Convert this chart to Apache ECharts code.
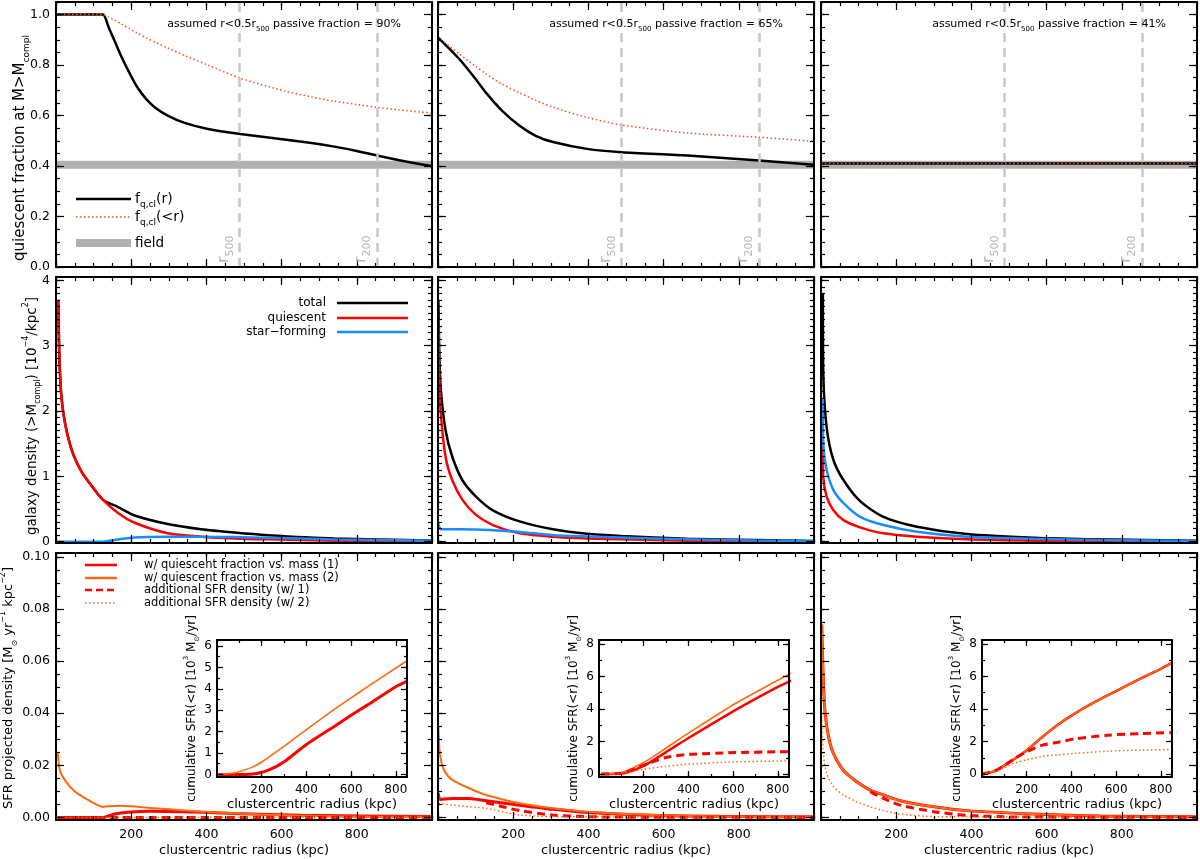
<!DOCTYPE html>
<html>
<head>
<meta charset="utf-8">
<title>Quiescent fraction, galaxy density and SFR profiles</title>
<script src="https://cdn.jsdelivr.net/npm/echarts@6/dist/echarts.min.js"></script>
<style>
  html, body { margin: 0; padding: 0; background: #fff; }
  #chart { width: 1200px; height: 859px; }
</style>
</head>
<body>
<div id="chart"></div>
<script>
/* -------------------------------------------------------------------------- */
/*                     Values (r in kpc)                  */
/* -------------------------------------------------------------------------- */

// top row: quiescent fraction
const fracR1 = [0, 110, 125, 140, 156, 175, 195, 215, 240, 265, 297, 342, 404, 490, 607, 680, 740, 800, 853, 910, 970, 1000];
const fracLocal1 = [1.0, 1.0, 1.0, 0.95, 0.895, 0.83, 0.77, 0.715, 0.665, 0.63, 0.60, 0.571, 0.547, 0.527, 0.505, 0.491, 0.477, 0.46, 0.442, 0.424, 0.407, 0.40];
const fracCumul1 = [1.0, 1.0, 1.0, 0.99, 0.978, 0.962, 0.945, 0.928, 0.908, 0.89, 0.868, 0.838, 0.80, 0.748, 0.698, 0.674, 0.657, 0.644, 0.633, 0.623, 0.614, 0.61];
const fracR2 = [0, 56, 100, 128, 170, 217, 260, 306, 396, 487, 664, 854, 1000];
const fracLocal2 = [0.91, 0.825, 0.745, 0.69, 0.62, 0.56, 0.52, 0.495, 0.468, 0.455, 0.442, 0.422, 0.405];
const fracCumul2 = [0.91, 0.845, 0.795, 0.765, 0.725, 0.69, 0.66, 0.633, 0.593, 0.563, 0.531, 0.514, 0.498];
const fracR3 = [0, 1000];
const fracLocal3 = [0.41, 0.41];
const fracCumul3 = [0.41, 0.41];
const fieldR = [0, 1000];
const fieldFrac = [0.405, 0.405];
const r500 = 488;
const r200 = 854;
const passiveFractions = ['90%', '65%', '41%'];

// middle row: galaxy density [1e-4 / kpc^2]
const densR1 = [6, 8, 10, 14, 20, 30, 45, 67, 94, 125, 165, 209, 297, 386, 474, 563, 740, 1000];
const densTot1 = [3.7, 3.05, 2.65, 2.25, 1.95, 1.65, 1.35, 1.08, 0.86, 0.64, 0.53, 0.40, 0.27, 0.19, 0.14, 0.10, 0.05, 0.02];
const densQ1 = [3.7, 3.05, 2.65, 2.25, 1.95, 1.65, 1.35, 1.08, 0.86, 0.64, 0.44, 0.29, 0.13, 0.077, 0.05, 0.036, 0.015, 0.01];
const densSF1 = [0, 0, 0, 0, 0, 0, 0, 0, 0, 0, 0.035, 0.066, 0.077, 0.077, 0.07, 0.06, 0.035, 0.015];
const densR2 = [1, 3, 7, 20, 38, 65, 101, 146, 217, 306, 396, 487, 664, 844, 1000];
const densTot2 = [3.7, 3.0, 2.37, 1.71, 1.30, 0.94, 0.69, 0.48, 0.31, 0.19, 0.12, 0.087, 0.046, 0.025, 0.01];
const densQ2 = [3.39, 2.6, 2.0, 1.3, 0.94, 0.64, 0.41, 0.255, 0.128, 0.077, 0.05, 0.036, 0.015, 0.008, 0.003];
const densSF2 = [0.28, 0.23, 0.19, 0.19, 0.19, 0.19, 0.185, 0.175, 0.15, 0.10, 0.08, 0.066, 0.036, 0.02, 0.01];
const densR3 = [5, 6, 15, 33, 60, 104, 166, 255, 388, 566, 744, 1000];
const densTot3 = [3.8, 2.6, 1.75, 1.25, 0.94, 0.62, 0.38, 0.23, 0.117, 0.061, 0.036, 0.015];
const densQ3 = [1.5, 1.0, 0.69, 0.48, 0.33, 0.22, 0.128, 0.077, 0.036, 0.015, 0.008, 0.004];
const densSF3 = [2.2, 1.5, 1.10, 0.79, 0.59, 0.38, 0.255, 0.153, 0.077, 0.046, 0.026, 0.01];

// bottom row: SFR projected density [Msun / yr / kpc^2]
const sfrR1a = [5, 10, 23, 50, 85, 110, 125, 138, 173, 253, 386, 563, 740, 1000];
const sfrMass2_1 = [0.0246, 0.0182, 0.0144, 0.0099, 0.0067, 0.0048, 0.0040, 0.0043, 0.0045, 0.0036, 0.0022, 0.0010, 0.0004, 0.0002];
const sfrR1b = [5, 110, 125, 156, 191, 253, 342, 475, 652, 1000];
const sfrMass1_1 = [0, 0, 0, 0.0013, 0.0020, 0.0024, 0.0022, 0.0015, 0.0008, 0.0003];
const addR1 = [5, 1000];
const sfrAdd1_1 = [0, 0];
const sfrAdd2_1 = [0, 0];

const sfrR2 = [1, 5, 16, 38, 83, 128, 217, 306, 396, 574, 753, 1000];
const sfrMass2_2 = [0.035, 0.0246, 0.0182, 0.0144, 0.0112, 0.0086, 0.0054, 0.0035, 0.0022, 0.0009, 0.0004, 0.0002];
const sfrMass1_2 = [0.0092, 0.0069, 0.0071, 0.0073, 0.0073, 0.0064, 0.0047, 0.0031, 0.0019, 0.0008, 0.0004, 0.0002];
const addR2a = [128, 172, 217, 306, 396, 500, 1000];
const sfrAdd1_2 = [0.0056, 0.0041, 0.0026, 0.0009, 0.0003, 0.0001, 0];
const addR2b = [1, 38, 83, 128, 172, 217, 306, 1000];
const sfrAdd2_2 = [0.0054, 0.0047, 0.0041, 0.0035, 0.0022, 0.0009, 0.0003, 0];

const sfrR3 = [2, 6, 11, 20, 33, 60, 95, 131, 166, 211, 300, 388, 566, 744, 1000];
const sfrMass1_3 = [0.074, 0.053, 0.040, 0.031, 0.0246, 0.018, 0.0137, 0.0105, 0.0086, 0.0064, 0.0041, 0.0026, 0.0013, 0.0005, 0.0002];
const sfrMass2_3 = [0.074, 0.053, 0.040, 0.031, 0.0246, 0.018, 0.0137, 0.0105, 0.0086, 0.0064, 0.0041, 0.0026, 0.0013, 0.0005, 0.0002];
const addR3a = [131, 166, 211, 300, 388, 500, 1000];
const sfrAdd1_3 = [0.0099, 0.0073, 0.0047, 0.0022, 0.0008, 0.0002, 0];
const addR3b = [2, 6, 15, 33, 60, 95, 131, 166, 211, 300, 1000];
const sfrAdd2_3 = [0.039, 0.0246, 0.0169, 0.0118, 0.0086, 0.006, 0.0041, 0.0026, 0.0013, 0.0003, 0];

// insets: cumulative SFR(<r) [1e3 Msun / yr]
const cumR1a = [7, 81, 156, 200, 304, 400, 526, 600, 674, 800, 849];
const cumMass2_1 = [0, 0.08, 0.33, 0.58, 1.35, 2.09, 3.05, 3.58, 4.1, 4.97, 5.3];
const cumR1b = [7, 125, 170, 230, 304, 400, 526, 600, 674, 800, 849];
const cumMass1_1 = [0, 0, 0.03, 0.2, 0.62, 1.40, 2.25, 2.76, 3.25, 4.1, 4.35];

const cumR2 = [10, 102, 200, 300, 402, 612, 800, 860];
const cumMass2_2 = [0, 0.1, 0.71, 1.6, 2.53, 4.35, 5.77, 6.2];
const cumMass1_2 = [0, 0.03, 0.5, 1.35, 2.23, 3.95, 5.36, 5.75];
const cumAdd1_2 = [0, 0.05, 0.55, 1.02, 1.21, 1.32, 1.37, 1.38];
const cumAdd2_2 = [0, 0.05, 0.3, 0.47, 0.61, 0.75, 0.8, 0.81];

const cumR3 = [0, 59, 118, 200, 267, 341, 400, 489, 600, 711, 800, 847];
const cumMass1_3 = [0, 0.2, 0.69, 1.47, 2.25, 3.04, 3.59, 4.31, 5.1, 5.88, 6.47, 6.82];
const cumMass2_3 = [0, 0.2, 0.69, 1.47, 2.25, 3.04, 3.59, 4.31, 5.1, 5.88, 6.47, 6.82];
const cumAddR3 = [0, 59, 118, 148, 200, 267, 341, 415, 563, 711, 847];
const cumAdd1_3 = [0, 0.2, 0.69, 0.98, 1.37, 1.76, 1.96, 2.16, 2.39, 2.49, 2.55];
const cumAdd2_3 = [0, 0.15, 0.5, 0.69, 0.88, 1.08, 1.18, 1.27, 1.41, 1.47, 1.51];

// tick values
const radiusMajor = [0, 200, 400, 600, 800, 1000];
const radiusLabels = [200, 400, 600, 800];
const fracMajor = [0, 0.2, 0.4, 0.6, 0.8, 1.0];
const densMajor = [0, 1, 2, 3, 4];
const sfrMajor = [0, 0.02, 0.04, 0.06, 0.08, 0.1];
const cumMajor1 = [0, 1, 2, 3, 4, 5, 6];
const cumMajor = [0, 2, 4, 6, 8];
const insetRadiusMajor = [200, 400, 600, 800];

/* -------------------------------------------------------------------------- */
/*                                   Layout                                   */
/* -------------------------------------------------------------------------- */

const FONT = 'DejaVu Sans';
const BLACK = '#000000';
const RED = '#ff0000';
const ORANGE = '#ff6a10';
const DOTRED = '#ff4a1a';
const BLUE = '#1a8cff';
const GREY = '#b0b0b0';
const DASHGREY = '#c8c8c8';

const COL_LEFT = [56, 438, 821];
const COL_WIDTH = 376;
const ROWS = [
  { top: 2, height: 265 },
  { top: 277, height: 266 },
  { top: 553, height: 267 }
];
const INSET = { dx: 161, top: 640, width: 190, height: 137 };

const steps = (from, to, step) => {
  const out = [];
  for (let i = 0; from + i * step <= to + 1e-9; i++) out.push(+(from + i * step).toFixed(6));
  return out;
};

const richSet = (size, color, subScale) => {
  const sub = Math.round(size * (subScale || 0.62));
  return {
    n: { fontSize: size, fontFamily: FONT, color, lineHeight: Math.round(size * 1.5) },
    s: { fontSize: sub, fontFamily: FONT, color, lineHeight: sub, verticalAlign: 'bottom' },
    u: { fontSize: sub, fontFamily: FONT, color, lineHeight: sub, verticalAlign: 'top' }
  };
};

const grid = [];
const xAxis = [];
const yAxis = [];
const series = [];
const graphic = [];

const makeAxis = (dim, gridIndex, position, spec, major, withLabels) => ({
  type: 'value',
  gridIndex,
  position,
  min: spec.min,
  max: spec.max,
  splitLine: { show: false },
  axisLine: { show: major, onZero: false, lineStyle: { color: BLACK, width: 2 } },
  axisTick: {
    show: true,
    inside: true,
    length: major ? spec.tick : spec.tick / 2,
    customValues: major ? spec.major : spec.minor,
    lineStyle: { color: BLACK, width: 1.2 }
  },
  axisLabel: {
    show: withLabels,
    customValues: spec.labels,
    formatter: spec.format,
    fontFamily: FONT,
    fontSize: spec.fontSize || 12.5,
    color: BLACK,
    margin: spec.margin || 6
  },
  name: withLabels && spec.name ? spec.name : '',
  nameLocation: 'middle',
  nameGap: spec.nameGap || 20,
  nameRotate: dim === 'y' ? 90 : 0,
  nameTextStyle: {
    fontFamily: FONT,
    fontSize: spec.nameSize || 13,
    color: BLACK,
    rich: spec.nameSize ? richSet(spec.nameSize, BLACK) : undefined
  },
  z: 5
});

const addPanel = (box, xSpec, ySpec, showX, showY, background) => {
  const g = grid.length;
  grid.push({
    left: box.left, top: box.top, width: box.width, height: box.height,
    show: !!background, backgroundColor: '#ffffff', borderWidth: 0
  });
  const xi = xAxis.length;
  xAxis.push(
    makeAxis('x', g, 'bottom', xSpec, true, showX),
    makeAxis('x', g, 'bottom', xSpec, false, false),
    makeAxis('x', g, 'top', xSpec, true, false),
    makeAxis('x', g, 'top', xSpec, false, false)
  );
  const yi = yAxis.length;
  yAxis.push(
    makeAxis('y', g, 'left', ySpec, true, showY),
    makeAxis('y', g, 'left', ySpec, false, false),
    makeAxis('y', g, 'right', ySpec, true, false),
    makeAxis('y', g, 'right', ySpec, false, false)
  );
  return { xi, yi };
};

const addLine = (p, xs, ys, color, width, dash, extra) => {
  series.push(Object.assign({
    type: 'line',
    xAxisIndex: p.xi,
    yAxisIndex: p.yi,
    data: xs.map((x, i) => [x, ys[i]]),
    symbol: 'none',
    smooth: 0.25,
    silent: true,
    animation: false,
    z: 3,
    lineStyle: { color, width, type: dash || 'solid', cap: 'butt' }
  }, extra || {}));
};

const addText = (x, y, text, size, opts, rotation) => {
  graphic.push({
    type: 'text', x, y, rotation: rotation || 0, silent: true, z: 20,
    style: Object.assign({
      text, fill: BLACK, fontFamily: FONT, fontSize: size,
      align: 'left', verticalAlign: 'middle', rich: richSet(size, BLACK)
    }, opts || {})
  });
};

const addSample = (x1, x2, y, color, width, dash) => {
  graphic.push({
    type: 'line', silent: true, z: 20,
    shape: { x1, y1: y, x2, y2: y },
    style: { stroke: color, lineWidth: width, lineDash: dash || null }
  });
};

/* -------------------------------------------------------------------------- */
/*                                 Axis specs                                 */
/* -------------------------------------------------------------------------- */

const xMain = {
  min: 0, max: 1000, major: radiusMajor, minor: steps(0, 1000, 50), labels: radiusLabels,
  format: (v) => String(v), tick: 8, name: 'clustercentric radius (kpc)', nameGap: 24, margin: 8
};
const yFrac = {
  min: 0, max: 1.05, major: fracMajor, minor: steps(0, 1.05, 0.05), labels: fracMajor,
  format: (v) => v.toFixed(1), tick: 8
};
const yDens = {
  min: -0.02, max: 4.05, major: densMajor, minor: steps(0, 4.05, 0.1), labels: densMajor,
  format: (v) => String(v), tick: 8
};
const ySfr = {
  min: -0.001, max: 0.1015, major: sfrMajor, minor: steps(0, 0.1015, 0.005), labels: sfrMajor,
  format: (v) => v.toFixed(2), tick: 8
};
const xInset = {
  min: 0, max: 850, major: insetRadiusMajor, minor: steps(0, 850, 100), labels: insetRadiusMajor,
  format: (v) => String(v), tick: 6, name: 'clustercentric radius (kpc)', nameGap: 21,
  fontSize: 12, margin: 7
};
const cumName = '{n|cumulative SFR(<r) [10}{u|3}{n| M}{s|⊙}{n|/yr]}';
const yInset1 = {
  min: -0.12, max: 6.28, major: cumMajor1, minor: steps(0, 6.28, 0.5), labels: cumMajor1,
  format: (v) => String(v), tick: 6, nameSize: 12, nameGap: 16, name: cumName, fontSize: 12, margin: 5
};
const yInset = {
  min: -0.18, max: 8.24, major: cumMajor, minor: steps(0, 8.24, 1), labels: cumMajor,
  format: (v) => String(v), tick: 6, nameSize: 12, nameGap: 16, name: cumName, fontSize: 12, margin: 5
};

/* -------------------------------------------------------------------------- */
/*                                   Panels                                   */
/* -------------------------------------------------------------------------- */

const fracData = [
  [fracR1, fracLocal1, fracCumul1],
  [fracR2, fracLocal2, fracCumul2],
  [fracR3, fracLocal3, fracCumul3]
];
const densData = [
  [densR1, densTot1, densQ1, densSF1],
  [densR2, densTot2, densQ2, densSF2],
  [densR3, densTot3, densQ3, densSF3]
];
const sfrData = [
  [[sfrR1b, sfrMass1_1], [sfrR1a, sfrMass2_1], [addR1, sfrAdd1_1], [addR1, sfrAdd2_1]],
  [[sfrR2, sfrMass1_2], [sfrR2, sfrMass2_2], [addR2a, sfrAdd1_2], [addR2b, sfrAdd2_2]],
  [[sfrR3, sfrMass1_3], [sfrR3, sfrMass2_3], [addR3a, sfrAdd1_3], [addR3b, sfrAdd2_3]]
];
const cumData = [
  [[cumR1b, cumMass1_1], [cumR1a, cumMass2_1], null, null],
  [[cumR2, cumMass1_2], [cumR2, cumMass2_2], [cumR2, cumAdd1_2], [cumR2, cumAdd2_2]],
  [[cumR3, cumMass1_3], [cumR3, cumMass2_3], [cumAddR3, cumAdd1_3], [cumAddR3, cumAdd2_3]]
];

const radiusLabel = (sub) => ({
  show: true,
  position: 'insideStartTop',
  distance: 4,
  formatter: `{n|r}{s|${sub}}`,
  rich: richSet(16, '#b4b4b4', 0.7)
});

COL_LEFT.forEach((left, c) => {
  // quiescent fraction
  const top = addPanel({ left, top: ROWS[0].top, width: COL_WIDTH, height: ROWS[0].height },
    xMain, yFrac, false, c === 0);
  addLine(top, fieldR, fieldFrac, GREY, 8, null, {
    smooth: false,
    z: 2,
    markLine: {
      silent: true,
      symbol: 'none',
      animation: false,
      lineStyle: { color: DASHGREY, width: 2.5, type: [9, 6] },
      data: [
        { xAxis: r500, label: radiusLabel('500') },
        { xAxis: r200, label: radiusLabel('200') }
      ]
    }
  });
  const [fr, fLocal, fCumul] = fracData[c];
  addLine(top, fr, fLocal, BLACK, 2.5);
  addLine(top, fr, fCumul, DOTRED, 1.5, [1.5, 2.5]);
  addText(left + 228, 24, `{n|assumed r<0.5r}{s|500}{n| passive fraction = ${passiveFractions[c]}}`, 11,
    { align: 'center' });

  // galaxy density
  const mid = addPanel({ left, top: ROWS[1].top, width: COL_WIDTH, height: ROWS[1].height },
    xMain, yDens, false, c === 0);
  const [dr, dTot, dQ, dSF] = densData[c];
  addLine(mid, dr, dTot, BLACK, 2.5);
  addLine(mid, dr, dQ, RED, 2.5);
  addLine(mid, dr, dSF, BLUE, 2.5);

  // SFR density
  const bot = addPanel({ left, top: ROWS[2].top, width: COL_WIDTH, height: ROWS[2].height },
    xMain, ySfr, true, c === 0);
  const [m1, m2, a1, a2] = sfrData[c];
  addLine(bot, m1[0], m1[1], RED, 3);
  addLine(bot, m2[0], m2[1], ORANGE, 2);
  addLine(bot, a1[0], a1[1], RED, 3, [8, 5]);
  addLine(bot, a2[0], a2[1], ORANGE, 1.5, [1.5, 2.5]);

  // inset: cumulative SFR
  const ins = addPanel({ left: left + INSET.dx, top: INSET.top, width: INSET.width, height: INSET.height },
    xInset, c === 0 ? yInset1 : yInset, true, true, true);
  const [c1, c2, c3, c4] = cumData[c];
  addLine(ins, c1[0], c1[1], RED, c === 0 ? 3 : 2.5);
  addLine(ins, c2[0], c2[1], ORANGE, 1.6);
  if (c3) addLine(ins, c3[0], c3[1], RED, 3, [8, 5]);
  if (c4) addLine(ins, c4[0], c4[1], ORANGE, 1.5, [1.5, 2.5]);
});

/* -------------------------------------------------------------------------- */
/*                           Axis titles and legends                          */
/* -------------------------------------------------------------------------- */

addText(20, 148, '{n|quiescent fraction at M>M}{s|compl}', 15, { align: 'center' }, Math.PI / 2);
addText(32, 416, '{n|galaxy density (>M}{s|compl}{n|) [10}{u|\u22124}{n|/kpc}{u|2}{n|]}', 13.5,
  { align: 'center' }, Math.PI / 2);
addText(9, 688, '{n|SFR projected density [M}{s|⊙}{n| yr}{u|\u22121}{n| kpc}{u|\u22122}{n|]}', 13,
  { align: 'center' }, Math.PI / 2);

addSample(76, 131, 199, BLACK, 2.5);
addSample(76, 131, 217, DOTRED, 1.5, [1.5, 2.5]);
addSample(76, 131, 243, GREY, 8);
addText(135, 199, '{n|f}{s|q,cl}{n|(r)}', 14);
addText(135, 217, '{n|f}{s|q,cl}{n|(<r)}', 14);
addText(135, 243, 'field', 13.5, { rich: null });

const densLegend = [['total', BLACK, 303], ['quiescent', RED, 318], ['star\u2212forming', BLUE, 332]];
densLegend.forEach(([label, color, y]) => {
  addText(326, y, label, 12, { align: 'right', rich: null });
  addSample(337, 408, y, color, 2.5);
});

addSample(85, 117, 565, RED, 2.5);
addSample(85, 117, 578, ORANGE, 2.5);
addSample(85, 117, 590, RED, 2.5, [7, 4]);
addSample(85, 117, 603, ORANGE, 1.5, [1.5, 2.5]);
addText(144, 565, 'w/ quiescent fraction vs. mass (1)', 11.5, { rich: null });
addText(144, 578, 'w/ quiescent fraction vs. mass (2)', 11.5, { rich: null });
addText(144, 590, 'additional SFR density (w/ 1)', 11.5, { rich: null });
addText(144, 603, 'additional SFR density (w/ 2)', 11.5, { rich: null });

/* -------------------------------------------------------------------------- */
/*                                    Chart                                   */
/* -------------------------------------------------------------------------- */

const chart = echarts.init(document.getElementById('chart'), null, { renderer: 'canvas' });
chart.setOption({
  animation: false,
  backgroundColor: '#ffffff',
  textStyle: { fontFamily: FONT },
  grid,
  xAxis,
  yAxis,
  series,
  graphic
});
</script>
</body>
</html>
